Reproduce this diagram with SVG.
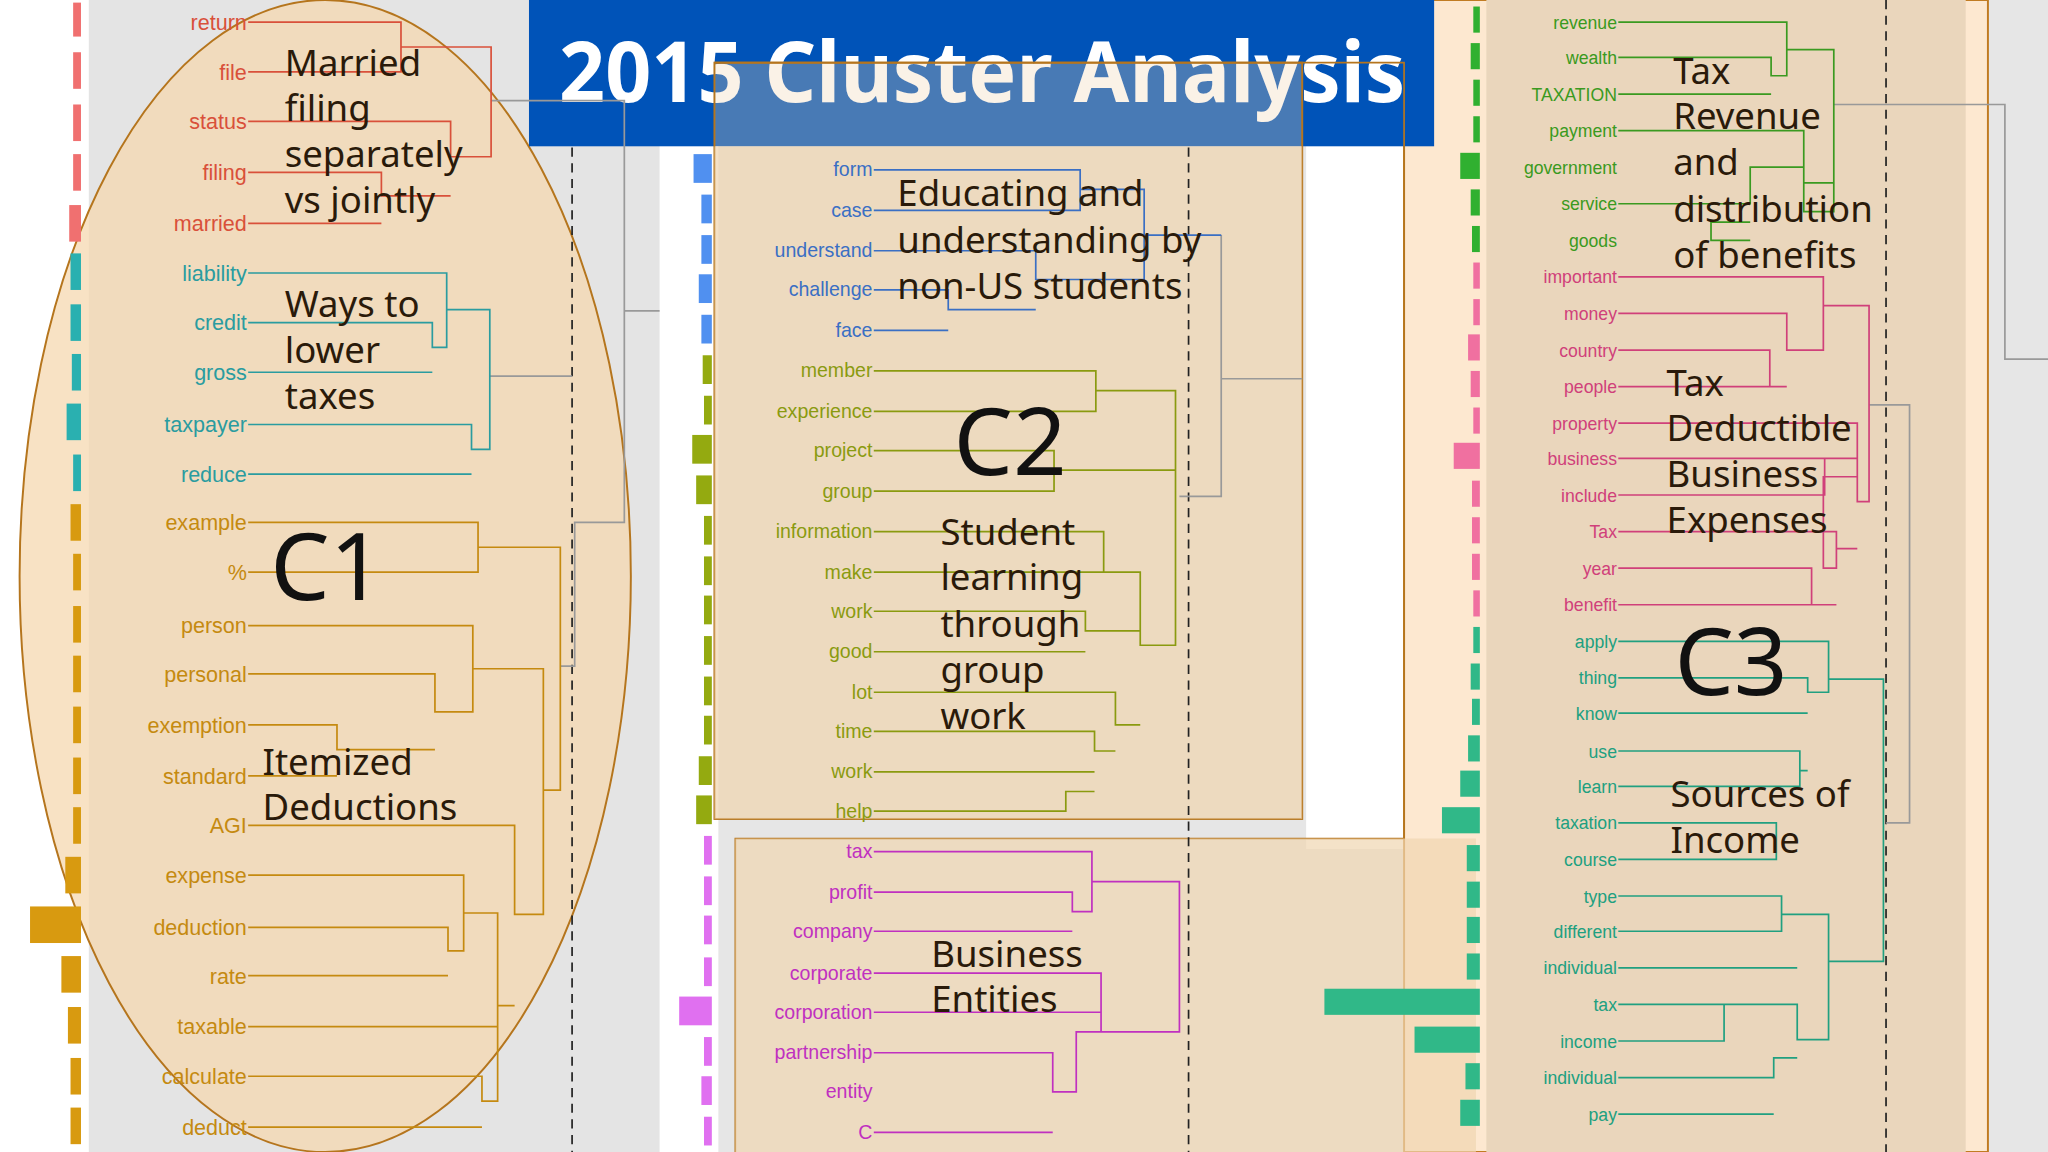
<svg xmlns="http://www.w3.org/2000/svg" width="2048" height="1152" viewBox="0 0 2048 1152">
<style>
.l{font-family:"Liberation Sans",Arial,sans-serif;font-size:16.5px;text-anchor:end}
.s{font-family:"Liberation Sans",Arial,sans-serif;font-size:13.5px;text-anchor:end}
.big{font-family:"Noto Sans","Open Sans",sans-serif;font-size:28px;fill:#2a1a0a}
.cl{font-family:"Noto Sans","Open Sans",sans-serif;font-size:72px;fill:#111}
.r{fill:#d9503a}.t{fill:#2a9ca0}.o{fill:#c58a10}.b{fill:#3a6fc4}.v{fill:#8a9a10}.m{fill:#c030c0}.g{fill:#3a9a20}.p{fill:#d0407a}.q{fill:#20a080}
path{fill:none;stroke-width:1.3}
.dash{stroke:#222;stroke-width:1.3;stroke-dasharray:7 5}
.gr{stroke:#999}
</style>
<g transform="scale(1.306122)">
<rect width="1568" height="882" fill="#fff"/>
<rect x="68" y="0" width="437" height="882" fill="#e4e4e4"/>
<rect x="550" y="0" width="525" height="882" fill="#e6e6e6"/>
<rect x="1000" y="110" width="75" height="540" fill="#fff"/>
<rect x="1522" y="0" width="46" height="882" fill="#e6e6e6"/>
<rect x="1075" y="0" width="447" height="882" fill="#fde8d0" stroke="#c07a20" stroke-width="1.5"/>
<rect x="1138" y="0" width="367" height="882" fill="#ead6bc"/>
<g id="c1">
<ellipse cx="249" cy="441" rx="234" ry="441" fill="#f5d8b0" fill-opacity="0.75" stroke="#b5751d" stroke-width="1.5"/>
</g>
<g id="title"><rect x="405" y="0" width="693" height="112" fill="#0053b8"/>
<text x="428" y="78" font-family="'Noto Sans','Open Sans',sans-serif" font-size="64" font-weight="bold" fill="#fff" textLength="648" lengthAdjust="spacingAndGlyphs">2015 Cluster Analysis</text></g>
<g id="c2box"><rect x="547" y="48" width="450" height="579" fill="#f0d5b0" fill-opacity="0.3" stroke="#b5751d" stroke-width="1.5"/>
<rect x="547" y="112" width="450" height="515" fill="#f0d5b0" fill-opacity="0.6"/>
<path d="M547 48 H1075 V642 H563 V882" stroke="#b5751d" stroke-width="1.5"/>
<rect x="563" y="642" width="567" height="240" fill="#f0d5b0" fill-opacity="0.7"/></g>
<g id="bars">
<g fill="#f07070"><rect x="56" y="2" width="6" height="26"/><rect x="56" y="40" width="6" height="28"/><rect x="56" y="80" width="6" height="28"/><rect x="56" y="118" width="6" height="28"/><rect x="53" y="157" width="9" height="28"/></g>
<g fill="#2ab0b0"><rect x="54" y="194" width="8" height="28"/><rect x="54" y="233" width="8" height="28"/><rect x="55" y="271" width="7" height="28"/><rect x="51" y="309" width="11" height="28"/><rect x="56" y="348" width="6" height="28"/></g>
<g fill="#d89a10"><rect x="54" y="386" width="8" height="28"/><rect x="56" y="424" width="6" height="28"/><rect x="56" y="464" width="6" height="28"/><rect x="56" y="502" width="6" height="28"/><rect x="56" y="541" width="6" height="28"/><rect x="56" y="580" width="6" height="28"/><rect x="56" y="618" width="6" height="28"/><rect x="50" y="656" width="12" height="28"/><rect x="23" y="694" width="39" height="28"/><rect x="47" y="732" width="15" height="28"/><rect x="52" y="771" width="10" height="28"/><rect x="54" y="810" width="8" height="28"/><rect x="54" y="848" width="8" height="28"/></g>
<g fill="#5090f0"><rect x="531" y="118" width="14" height="22"/><rect x="537" y="149" width="8" height="22"/><rect x="537" y="180" width="8" height="22"/><rect x="535" y="210" width="10" height="22"/><rect x="537" y="241" width="8" height="22"/></g>
<g fill="#94aa10"><rect x="538" y="272" width="7" height="22"/><rect x="539" y="303" width="6" height="22"/><rect x="530" y="333" width="15" height="22"/><rect x="533" y="364" width="12" height="22"/><rect x="539" y="395" width="6" height="22"/><rect x="539" y="426" width="6" height="22"/><rect x="539" y="456" width="6" height="22"/><rect x="539" y="487" width="6" height="22"/><rect x="539" y="518" width="6" height="22"/><rect x="539" y="548" width="6" height="22"/><rect x="535" y="579" width="10" height="22"/><rect x="533" y="609" width="12" height="22"/></g>
<g fill="#e070f0"><rect x="539" y="640" width="6" height="22"/><rect x="539" y="671" width="6" height="22"/><rect x="539" y="701" width="6" height="22"/><rect x="539" y="733" width="6" height="22"/><rect x="520" y="763" width="25" height="22"/><rect x="539" y="794" width="6" height="22"/><rect x="537" y="824" width="8" height="22"/><rect x="539" y="855" width="6" height="22"/></g>
<g fill="#30b030"><rect x="1128" y="5" width="5" height="20"/><rect x="1126" y="33" width="7" height="20"/><rect x="1128" y="61" width="5" height="20"/><rect x="1128" y="89" width="5" height="20"/><rect x="1118" y="117" width="15" height="20"/><rect x="1126" y="145" width="7" height="20"/><rect x="1127" y="173" width="6" height="20"/></g>
<g fill="#f070a0"><rect x="1128" y="201" width="5" height="20"/><rect x="1128" y="229" width="5" height="20"/><rect x="1124" y="256" width="9" height="20"/><rect x="1126" y="284" width="7" height="20"/><rect x="1128" y="312" width="5" height="20"/><rect x="1113" y="339" width="20" height="20"/><rect x="1127" y="368" width="6" height="20"/><rect x="1127" y="396" width="6" height="20"/><rect x="1127" y="424" width="6" height="20"/><rect x="1128" y="452" width="5" height="20"/></g>
<g fill="#30b888"><rect x="1128" y="480" width="5" height="20"/><rect x="1126" y="508" width="7" height="20"/><rect x="1127" y="535" width="6" height="20"/><rect x="1124" y="563" width="9" height="20"/><rect x="1118" y="590" width="15" height="20"/><rect x="1104" y="618" width="29" height="20"/><rect x="1123" y="647" width="10" height="20"/><rect x="1123" y="675" width="10" height="20"/><rect x="1123" y="702" width="10" height="20"/><rect x="1123" y="730" width="10" height="20"/><rect x="1014" y="757" width="119" height="20"/><rect x="1083" y="786" width="50" height="20"/><rect x="1122" y="814" width="11" height="20"/><rect x="1118" y="842" width="15" height="20"/></g>
</g>
<g id="connectors">
<path class="dash" d="M438 113 V882 M910 113 V882 M1444 0 V882"/>
<path class="gr" d="M376 77 H478 V238 H505 M375 288 H438 M478 238 V113 M429 510 H440 V400 H478 V238 M935 180 V290 H997 M903 380 H935 V180 M1404 80 H1535 V275 H1568 M1431 310 H1462 V630 H1444"/>
<path stroke="#d9503a" d="M190 17 H307 V55 H190 M307 36 H376 V120 H345 V93 H190 M345 150 H292 V132 H190 M292 171 H190"/>
<path stroke="#2a9ca0" d="M190 209 H342 V266 H331 V247 H190 M331 285 H190 M342 237 H375 V344 H361 V325 H190 M361 363 H190"/>
<path stroke="#c58a10" d="M190 400 H366 V438 H190 M366 419 H429 V605 H416 M190 479 H362 V545 H333 V516 H190 M333 574 H258 V555 H190 M258 594 H190 M362 512 H416 V700 H394 V632 H190 M190 670 H355 V728 H343 V710 H190 M343 747 H190 M355 699 H381 V843 H369 V824 H190 M369 863 H190 M381 786 H190 M394 770 H381"/>
<path stroke="#3a6fc4" d="M669 130 H827 V161 H669 M827 145 H876 V214 H793 V192 H669 M793 237 H726 V222 H669 M726 253 H669 M876 180 H935"/>
<path stroke="#8a9a10" d="M669 284 H839 V315 H669 M839 299 H900 V494 H873 V438 H845 V407 H669 M845 438 H669 M669 345 H807 V376 H669 M807 360 H900 M873 483 H831 V468 H669 M831 499 H669 M873 555 H854 V530 H669 M854 575 H838 V560 H669 M838 591 H669 M838 606 H816 V621 H669 M873 494 H900"/>
<path stroke="#c030c0" d="M669 652 H836 V698 H821 V683 H669 M821 713 H669 M836 675 H903 V790 H843 V745 H669 M843 775 H669 M843 790 H824 V836 H806 V806 H669 M806 867 H669 M806 836 H824"/>
<path stroke="#3a9a20" d="M1239 17 H1368 V58 H1356 V44 H1239 M1356 72 H1239 M1368 38 H1404 V162 H1381 V100 H1239 M1381 128 H1340 V156 H1239 M1340 184 H1310 V170 H1340 M1381 140 H1404"/>
<path stroke="#d0407a" d="M1239 212 H1396 V268 H1368 V240 H1239 M1368 296 H1355 V268 H1239 M1355 296 H1239 M1396 234 H1431 V384 H1422 V324 H1239 M1422 351 H1397 V379 H1239 M1397 351 H1239 M1422 365 H1396 V435 H1406 V407 H1239 M1406 463 H1387 V435 H1239 M1387 463 H1239 M1406 420 H1422"/>
<path stroke="#20a080" d="M1239 491 H1400 V530 H1384 V519 H1239 M1384 546 H1239 M1400 520 H1442 V736 H1400 M1239 575 H1378 V602 H1239 M1378 590 H1384 M1239 630 H1360 V658 H1239 M1239 686 H1364 V713 H1239 M1364 700 H1400 V796 H1376 V769 H1320 V797 H1239 M1320 769 H1239 M1376 810 H1358 V825 H1239 M1358 853 H1239 M1239 741 H1376"/>
</g>
<g id="labels">
<g class="l r"><text x="189" y="23">return</text><text x="189" y="61">file</text><text x="189" y="99">status</text><text x="189" y="138">filing</text><text x="189" y="177">married</text></g>
<g class="l t"><text x="189" y="215">liability</text><text x="189" y="253">credit</text><text x="189" y="291">gross</text><text x="189" y="331">taxpayer</text><text x="189" y="369">reduce</text></g>
<g class="l o"><text x="189" y="406">example</text><text x="189" y="444">%</text><text x="189" y="485">person</text><text x="189" y="522">personal</text><text x="189" y="561">exemption</text><text x="189" y="600">standard</text><text x="189" y="638">AGI</text><text x="189" y="676">expense</text><text x="189" y="716">deduction</text><text x="189" y="753">rate</text><text x="189" y="792">taxable</text><text x="189" y="830">calculate</text><text x="189" y="869">deduct</text></g>
<g class="l b" style="font-size:15px"><text x="668" y="135">form</text><text x="668" y="166">case</text><text x="668" y="197">understand</text><text x="668" y="227">challenge</text><text x="668" y="258">face</text></g>
<g class="l v" style="font-size:15px"><text x="668" y="289">member</text><text x="668" y="320">experience</text><text x="668" y="350">project</text><text x="668" y="381">group</text><text x="668" y="412">information</text><text x="668" y="443">make</text><text x="668" y="473">work</text><text x="668" y="504">good</text><text x="668" y="535">lot</text><text x="668" y="565">time</text><text x="668" y="596">work</text><text x="668" y="626">help</text></g>
<g class="l m" style="font-size:15px"><text x="668" y="657">tax</text><text x="668" y="688">profit</text><text x="668" y="718">company</text><text x="668" y="750">corporate</text><text x="668" y="780">corporation</text><text x="668" y="811">partnership</text><text x="668" y="841">entity</text><text x="668" y="872">C</text></g>
<g class="s g"><text x="1238" y="22">revenue</text><text x="1238" y="49">wealth</text><text x="1238" y="77">TAXATION</text><text x="1238" y="105">payment</text><text x="1238" y="133">government</text><text x="1238" y="161">service</text><text x="1238" y="189">goods</text></g>
<g class="s p"><text x="1238" y="217">important</text><text x="1238" y="245">money</text><text x="1238" y="273">country</text><text x="1238" y="301">people</text><text x="1238" y="329">property</text><text x="1238" y="356">business</text><text x="1238" y="384">include</text><text x="1238" y="412">Tax</text><text x="1238" y="440">year</text><text x="1238" y="468">benefit</text></g>
<g class="s q"><text x="1238" y="496">apply</text><text x="1238" y="524">thing</text><text x="1238" y="551">know</text><text x="1238" y="580">use</text><text x="1238" y="607">learn</text><text x="1238" y="635">taxation</text><text x="1238" y="663">course</text><text x="1238" y="691">type</text><text x="1238" y="718">different</text><text x="1238" y="746">individual</text><text x="1238" y="774">tax</text><text x="1238" y="802">income</text><text x="1238" y="830">individual</text><text x="1238" y="858">pay</text></g>
</g>
<g id="notes">
<text class="big" x="218" y="58">Married</text><text class="big" x="218" y="93">filing</text><text class="big" x="218" y="128">separately</text><text class="big" x="218" y="163">vs jointly</text>
<text class="big" x="218" y="243">Ways to</text><text class="big" x="218" y="278">lower</text><text class="big" x="218" y="313">taxes</text>
<text class="cl" x="207" y="459">C1</text>
<text class="big" x="201" y="593">Itemized</text><text class="big" x="201" y="628">Deductions</text>
<text class="big" x="687" y="158">Educating and</text><text class="big" x="687" y="194">understanding by</text><text class="big" x="687" y="229">non-US students</text>
<text class="cl" x="730" y="364">C2</text>
<text class="big" x="720" y="417">Student</text><text class="big" x="720" y="452">learning</text><text class="big" x="720" y="488">through</text><text class="big" x="720" y="523">group</text><text class="big" x="720" y="558">work</text>
<text class="big" x="713" y="740">Business</text><text class="big" x="713" y="775">Entities</text>
<text class="big" x="1281" y="64">Tax</text><text class="big" x="1281" y="99">Revenue</text><text class="big" x="1281" y="134">and</text><text class="big" x="1281" y="170">distribution</text><text class="big" x="1281" y="205">of benefits</text>
<text class="big" x="1276" y="303">Tax</text><text class="big" x="1276" y="338">Deductible</text><text class="big" x="1276" y="373">Business</text><text class="big" x="1276" y="408">Expenses</text>
<text class="cl" x="1282" y="532">C3</text>
<text class="big" x="1279" y="618">Sources of</text><text class="big" x="1279" y="653">Income</text>
</g>
</g>
</svg>
